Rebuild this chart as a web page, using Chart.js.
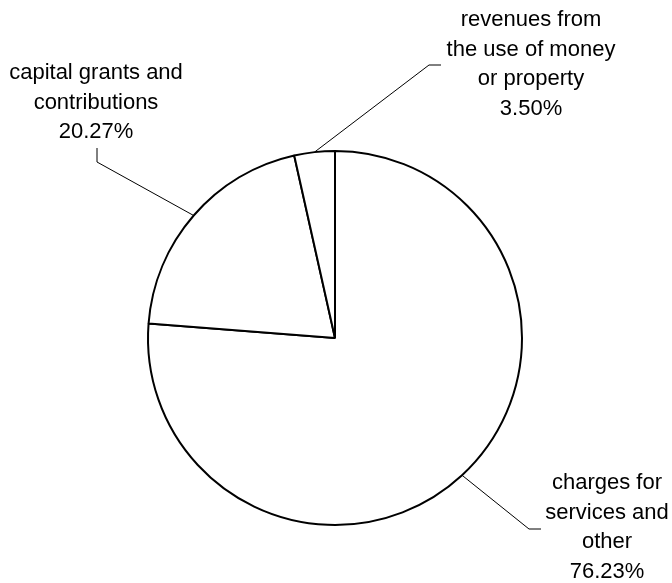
<!DOCTYPE html>
<html>
<head>
<meta charset="utf-8">
<script src="https://cdn.jsdelivr.net/npm/chart.js@4"></script>
<style>
  html, body { margin: 0; padding: 0; background: #fff; }
  #wrap { width: 672px; height: 583px; position: relative; }
</style>
</head>
<body>
<div id="wrap"><canvas id="c"></canvas></div>
<script>
// ---- data ----
const categories = ["charges for services and other", "capital grants and contributions", "revenues from the use of money or property"];
const values = [76.23, 20.27, 3.50];
const labelLines = [
  ["charges for", "services and", "other"],
  ["capital grants and", "contributions"],
  ["revenues from", "the use of money", "or property"]
];

// ---- label layout (positions only) ----
const labelLayout = [
  { elbow: [529, 529], end: [541, 529], cx: 607, top: 483 },
  { elbow: [97, 162],  end: [97, 148],  cx: 96,  top: 73 },
  { elbow: [429, 65],  end: [441, 65],  cx: 531, top: 20 }
];
const lineH = 29.5;

const leaderPlugin = {
  id: 'leaders',
  afterDatasetsDraw(chart) {
    const ctx = chart.ctx;
    const meta = chart.getDatasetMeta(0);
    ctx.save();
    meta.data.forEach((arc, i) => {
      const p = arc.getProps(['x', 'y', 'startAngle', 'endAngle', 'outerRadius'], true);
      const mid = (p.startAngle + p.endAngle) / 2;
      const sx = p.x + Math.cos(mid) * p.outerRadius;
      const sy = p.y + Math.sin(mid) * p.outerRadius;
      const L = labelLayout[i];
      ctx.strokeStyle = '#000';
      ctx.lineWidth = 1;
      ctx.beginPath();
      ctx.moveTo(sx, sy);
      ctx.lineTo(L.elbow[0], L.elbow[1]);
      ctx.lineTo(L.end[0], L.end[1]);
      ctx.stroke();
      const lines = labelLines[i].concat([values[i].toFixed(2) + '%']);
      ctx.fillStyle = '#000';
      ctx.font = '22px "Liberation Sans", Arial, sans-serif';
      ctx.textAlign = 'center';
      ctx.textBaseline = 'middle';
      lines.forEach((t, k) => ctx.fillText(t, L.cx, L.top + k * lineH));
    });
    ctx.restore();
  }
};

new Chart(document.getElementById('c'), {
  type: 'pie',
  data: {
    labels: categories,
    datasets: [{
      data: values,
      backgroundColor: '#ffffff',
      borderColor: '#000000',
      borderWidth: 2
    }]
  },
  options: {
    responsive: true,
    maintainAspectRatio: false,
    animation: false,
    layout: { padding: { top: 150, bottom: 57, left: 0, right: 2 } },
    plugins: { legend: { display: false }, tooltip: { enabled: false } }
  },
  plugins: [leaderPlugin]
});
</script>
</body>
</html>
